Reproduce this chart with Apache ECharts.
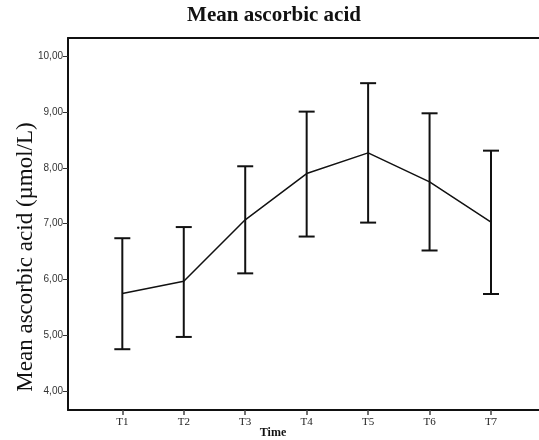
<!DOCTYPE html>
<html>
<head>
<meta charset="utf-8">
<script src="https://cdn.jsdelivr.net/npm/echarts@6/dist/echarts.min.js"></script>
<style>
  html, body { margin: 0; padding: 0; background: #fff; }
  #chart { width: 539px; height: 440px; }
</style>
</head>
<body>
<div id="chart"></div>
<script>
// Time points and mean ascorbic acid with error bar limits (µmol/L)
const categories = ['T1', 'T2', 'T3', 'T4', 'T5', 'T6', 'T7'];
const means = [5.75, 5.97, 7.07, 7.90, 8.27, 7.75, 7.03];
const upper = [6.74, 6.94, 8.03, 9.01, 9.52, 8.98, 8.31];
const lower = [4.75, 4.97, 6.11, 6.77, 7.02, 6.52, 5.74];
const yTicks = [4, 5, 6, 7, 8, 9, 10];

const xPos = categories.map((c, i) => i + 1);
const meanData = means.map((v, i) => [xPos[i], v]);
const barData = categories.map((c, i) => [xPos[i], lower[i], upper[i]]);

const chart = echarts.init(document.getElementById('chart'), null, { renderer: 'canvas' });

const serif = 'Liberation Serif';

chart.setOption({
  animation: false,
  backgroundColor: '#fff',
  grid: { left: 68, right: 0, top: 38, bottom: 30, containLabel: false },
  xAxis: [{
    type: 'value',
    min: 0.116,
    max: 7.781,
    splitLine: { show: false },
    axisLine: { show: true, lineStyle: { color: '#111', width: 2 } },
    axisTick: {
      show: true, length: 5, customValues: xPos,
      lineStyle: { color: '#444', width: 1.5 }
    },
    axisLabel: {
      customValues: xPos,
      formatter: v => categories[Math.round(v) - 1] || '',
      fontFamily: serif, fontSize: 11, color: '#222', margin: 7
    }
  }, {
    // top border of the frame
    type: 'value', position: 'top',
    min: 0.116, max: 7.781,
    splitLine: { show: false },
    axisLine: { show: true, onZero: false, lineStyle: { color: '#111', width: 2 } },
    axisTick: { show: false },
    axisLabel: { show: false }
  }],
  yAxis: {
    type: 'value',
    min: 3.66,
    max: 10.33,
    splitLine: { show: false },
    axisLine: { show: true, lineStyle: { color: '#111', width: 2 } },
    axisTick: {
      show: true, length: 5, customValues: yTicks,
      lineStyle: { color: '#333', width: 1 }
    },
    axisLabel: {
      customValues: yTicks,
      formatter: v => v.toFixed(2).replace('.', ','),
      fontFamily: 'Liberation Sans', fontSize: 10, color: '#333', margin: 5
    }
  },
  graphic: [
    {
      type: 'text', x: 274, y: 16,
      style: {
        text: 'Mean ascorbic acid', fontFamily: serif, fontWeight: 'bold',
        fontSize: 21, fill: '#111', textAlign: 'center', textVerticalAlign: 'middle'
      }
    },
    {
      type: 'text', x: 273, y: 433,
      style: {
        text: 'Time', fontFamily: serif, fontWeight: 'bold',
        fontSize: 12, fill: '#111', textAlign: 'center', textVerticalAlign: 'middle'
      }
    },
    {
      type: 'text', x: 26, y: 257, rotation: Math.PI / 2,
      style: {
        text: 'Mean ascorbic acid (µmol/L)', fontFamily: serif,
        fontSize: 23, fill: '#111', textAlign: 'center', textVerticalAlign: 'middle'
      }
    }
  ],
  series: [
    {
      type: 'custom',
      data: barData,
      z: 3,
      renderItem: function (params, api) {
        const x = api.value(0);
        const lo = api.coord([x, api.value(1)]);
        const hi = api.coord([x, api.value(2)]);
        const half = 8;
        const style = { stroke: '#111', lineWidth: 2 };
        return {
          type: 'group',
          children: [
            { type: 'line', shape: { x1: lo[0], y1: lo[1], x2: hi[0], y2: hi[1] }, style },
            { type: 'line', shape: { x1: hi[0] - half, y1: hi[1], x2: hi[0] + half, y2: hi[1] }, style },
            { type: 'line', shape: { x1: lo[0] - half, y1: lo[1], x2: lo[0] + half, y2: lo[1] }, style }
          ]
        };
      }
    },
    {
      type: 'line',
      data: meanData,
      symbol: 'none',
      z: 4,
      lineStyle: { color: '#111', width: 1.5 }
    }
  ]
});
</script>
</body>
</html>
